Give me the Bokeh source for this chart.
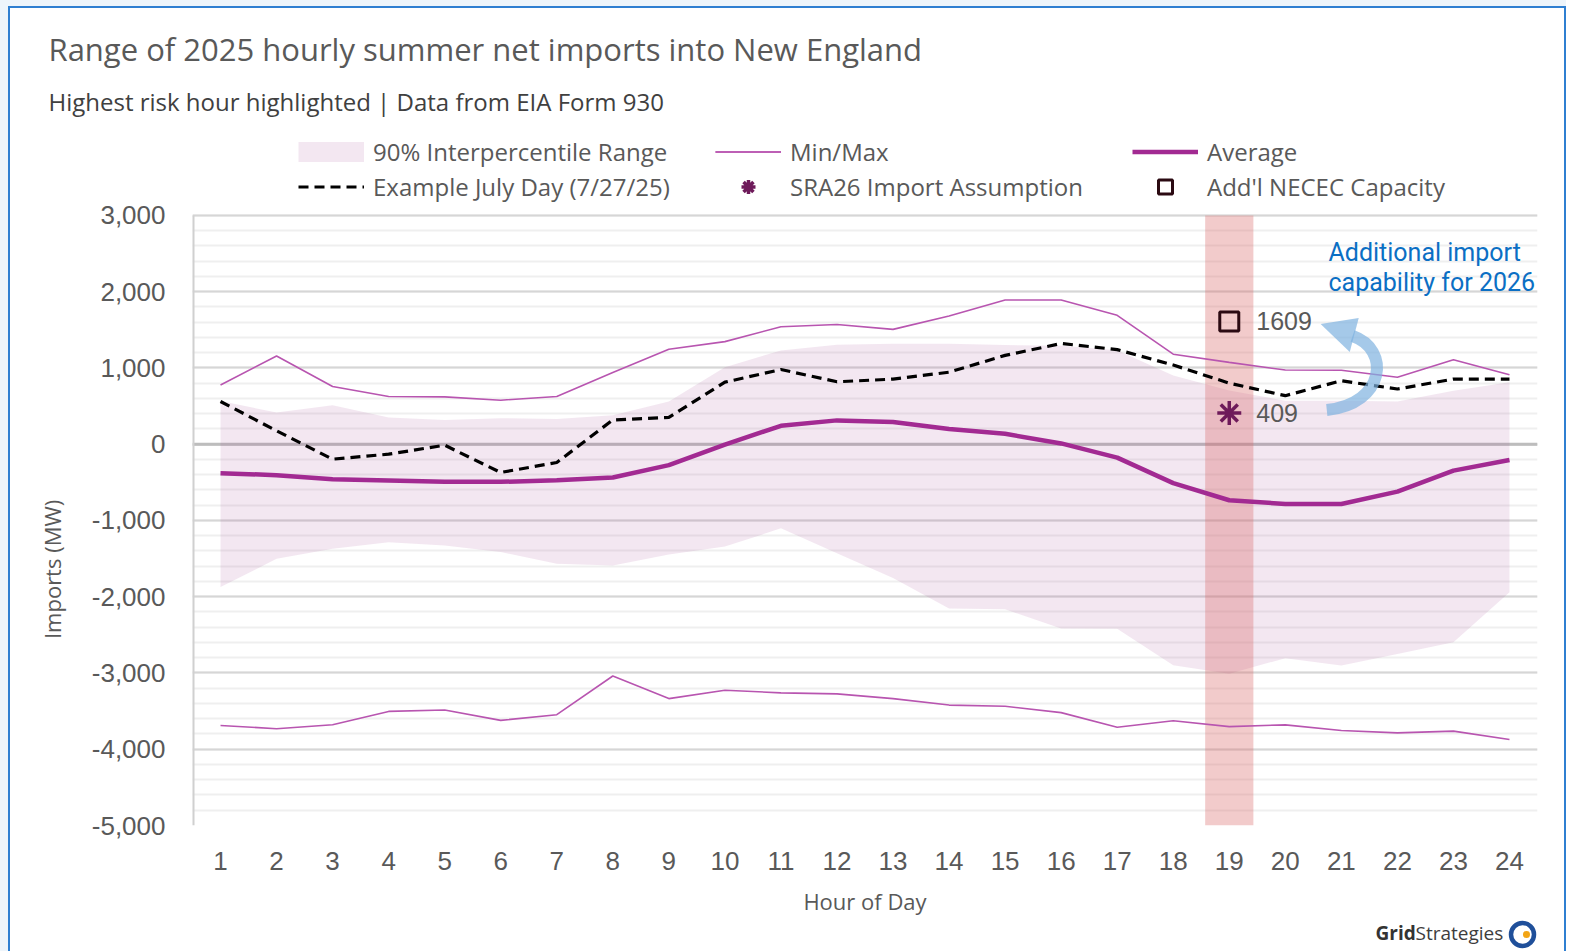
from bokeh.plotting import figure
from bokeh.layouts import column
from bokeh.models import (ColumnDataSource, Legend, LegendItem, Label, Span, FixedTicker,
                          NumeralTickFormatter, Range1d, Title)
from bokeh.embed import file_html
from bokeh.resources import INLINE

# ---------------- data ----------------
hours = list(range(1, 25))
max_vals = [777, 1157, 756, 625, 620, 577, 625, 940, 1244, 1345, 1540, 1570,
            1505, 1680, 1891, 1891, 1690, 1180, 1073, 972, 970, 877, 1108, 911]
min_vals = [-3688, -3731, -3679, -3504, -3486, -3622, -3547, -3040, -3336, -3226, -3261, -3274,
            -3336, -3421, -3436, -3520, -3712, -3627, -3703, -3680, -3754, -3785, -3763, -3873]
p95_vals = [565, 415, 511, 350, 318, 340, 330, 380, 560, 1010, 1229, 1304,
            1316, 1316, 1300, 1290, 1230, 900, 703, 570, 570, 560, 700, 811]
p5_vals = [-1874, -1503, -1372, -1285, -1330, -1415, -1569, -1590, -1445, -1343, -1104, -1429,
           -1755, -2156, -2166, -2417, -2420, -2899, -3010, -2806, -2903, -2750, -2597, -1941]
avg_vals = [-380, -406, -459, -475, -494, -494, -472, -437, -275, -5, 241, 312,
            291, 200, 136, 10, -176, -511, -735, -784, -784, -622, -347, -207]
july_vals = [560, 175, -197, -131, -13, -371, -240, 318, 351, 813, 979, 818,
             853, 944, 1164, 1320, 1240, 1038, 800, 636, 832, 723, 854, 854]

risk_hour = 19
sra26_value = 409
necec_value = 1609

y_major = list(range(-5000, 3001, 1000))
y_minor = list(range(-5000, 3001, 200))

GRAY_TXT = "#595959"
FONT = "Open Sans"

src = ColumnDataSource(dict(hour=hours, mx=max_vals, mn=min_vals, p95=p95_vals,
                            p5=p5_vals, avg=avg_vals, july=july_vals))

W = 1566
HEADER_H = 136          # title + subtitle strip
PLOT_TOP_PX = 215       # page y of the 3,000 gridline
FRAME_BOTTOM_PX = 826   # page y of the -5,000 gridline
BOTTOM_BORDER = 92
FOOTER_H = 951 - (FRAME_BOTTOM_PX + BOTTOM_BORDER)
FRAME_LEFT_PX = 192


def bare_figure(h, xr, yr):
    f = figure(width=W, height=h, output_backend="svg", toolbar_location=None,
               x_range=xr, y_range=yr, x_axis_type=None, y_axis_type=None, min_border=0)
    f.outline_line_color = None
    f.background_fill_color = None
    f.border_fill_color = None
    return f


# ---------------- header (title / subtitle as titles, not clipped) ----------------
head = bare_figure(HEADER_H, Range1d(0, 1), Range1d(0, 1))
head.add_layout(Title(text="Highest risk hour highlighted | Data from EIA Form 930", align="left",
                      offset=48 - FRAME_LEFT_PX, standoff=26, text_font=FONT, text_font_size="24px",
                      text_font_style="normal", text_color="#404040"), "above")
head.add_layout(Title(text="Range of 2025 hourly summer net imports into New England", align="left",
                      offset=48 - FRAME_LEFT_PX, standoff=0, text_font=FONT, text_font_size="31px",
                      text_font_style="normal", text_color=GRAY_TXT), "above")
head.add_layout(Title(text="\u00a0", align="left", standoff=9, text_font=FONT,
                      text_font_size="10px", text_color="white"), "above")

# ---------------- main chart ----------------
frame_h = FRAME_BOTTOM_PX - HEADER_H
units_per_px = (y_major[-1] - y_major[0]) / (FRAME_BOTTOM_PX - PLOT_TOP_PX)
y_top = y_major[-1] + (PLOT_TOP_PX - HEADER_H) * units_per_px

p = figure(width=W, height=frame_h + BOTTOM_BORDER, output_backend="svg", toolbar_location=None,
           x_range=Range1d(0.5, 24.5), y_range=Range1d(y_major[0], y_top),
           min_border_left=FRAME_LEFT_PX, min_border_right=W - 1537, min_border_top=0,
           min_border_bottom=BOTTOM_BORDER)
p.outline_line_color = None
p.background_fill_color = None
p.border_fill_color = None

p.xaxis.ticker = FixedTicker(ticks=hours)
p.yaxis.ticker = FixedTicker(ticks=y_major, minor_ticks=y_minor)
p.yaxis.formatter = NumeralTickFormatter(format="0,0")
for ax in (p.xaxis, p.yaxis):
    ax.major_tick_line_color = None
    ax.minor_tick_line_color = None
    ax.major_tick_out = 0
    ax.minor_tick_out = 0
    ax.axis_line_color = None
    ax.major_label_text_font = "Liberation Sans"
    ax.major_label_text_font_size = "26px"
    ax.major_label_text_color = GRAY_TXT
    ax.axis_label_text_font = FONT
    ax.axis_label_text_font_size = "22px"
    ax.axis_label_text_font_style = "normal"
    ax.axis_label_text_color = GRAY_TXT
p.xaxis.axis_label = "Hour of Day"
# trailing spaces move the centred label down to the middle of the value area
p.yaxis.axis_label = "Imports (MW)" + "\u2003" * 7 + "\u00a0" * 4
p.yaxis.major_label_standoff = 27
p.xaxis.major_label_standoff = 26
p.xaxis.axis_label_standoff = 13
p.yaxis.axis_label_standoff = 22

p.xgrid.grid_line_color = None
p.ygrid.grid_line_color = "#d6d6d6"
p.ygrid.grid_line_width = 2
p.ygrid.minor_grid_line_color = "#efefef"
p.ygrid.minor_grid_line_width = 2

p.add_layout(Span(location=0, dimension="width", line_color="#bdbdbd", line_width=3, level="underlay"))

# left edge line of the value area
p.segment(x0=[0.5], x1=[0.5], y0=[y_major[0]], y1=[y_major[-1]], line_color="#d0d0d0", line_width=4)

band = p.varea(x="hour", y1="p5", y2="p95", source=src, fill_color="#9b3a8e", fill_alpha=0.12)
p.vbar(x=[risk_hour], width=0.86, top=[y_major[-1]], bottom=[y_major[0]],
       fill_color="#d96a6a", fill_alpha=0.35, line_color=None)

mx_r = p.line("hour", "mx", source=src, line_color="#b855b0", line_width=1.6)
mn_r = p.line("hour", "mn", source=src, line_color="#b855b0", line_width=1.6)
avg_r = p.line("hour", "avg", source=src, line_color="#a22a92", line_width=4.5)
july_r = p.line("hour", "july", source=src, line_color="black", line_width=3.2, line_dash="10 6")

sra_r = p.scatter([risk_hour], [sra26_value], marker="asterisk", size=24,
                  line_color="#6e1a5a", line_width=3.5)
nec_r = p.scatter([risk_hour], [necec_value], marker="square", size=19,
                  fill_color=None, line_color="#2b0a12", line_width=3)

# single-point line: draws nothing in the plot, gives the band's legend swatch
band_leg = p.line(x=[hours[0]], y=[y_major[0]], line_color="#9b3a8e", line_alpha=0.12,
                  line_width=20, line_cap="butt")

for txt, val in ((str(necec_value), necec_value), (str(sra26_value), sra26_value)):
    p.add_layout(Label(x=risk_hour, y=val, x_offset=27, text=txt, text_font="Liberation Sans",
                       text_font_size="25px", text_color=GRAY_TXT, text_baseline="middle"))

# curved arrow (annotation), positioned relative to the highlighted hour
ax0 = risk_hour
p.bezier(x0=[ax0 + 1.74], y0=[448], x1=[ax0 + 2.20], y1=[1418],
         cx0=[ax0 + 2.79], cy0=[527], cx1=[ax0 + 2.88], cy1=[1248],
         line_color="#7fb2e0", line_alpha=0.7, line_width=12)
p.patch(x=[ax0 + 1.63, ax0 + 2.31, ax0 + 2.15], y=[1575, 1654, 1208],
        fill_color="#7fb2e0", fill_alpha=0.7, line_color=None)

fb = FRAME_BOTTOM_PX  # screen y is measured upward from the frame bottom
p.add_layout(Label(x=1136, y=fb - 267, x_units="screen", y_units="screen", text="Additional import",
                   text_font="Roboto", text_font_size="25px", text_color="#0b6fc4"))
p.add_layout(Label(x=1136, y=fb - 297, x_units="screen", y_units="screen", text="capability for 2026",
                   text_font="Roboto", text_font_size="25px", text_color="#0b6fc4"))

legend = Legend(items=[
    LegendItem(label="90% Interpercentile Range", renderers=[band_leg]),
    LegendItem(label="Min/Max", renderers=[mx_r, mn_r]),
    LegendItem(label="Average", renderers=[avg_r]),
    LegendItem(label="Example July Day (7/27/25)", renderers=[july_r]),
    LegendItem(label="SRA26 Import Assumption", renderers=[sra_r]),
    LegendItem(label="Add'l NECEC Capacity", renderers=[nec_r]),
], location=(106, fb - 205), orientation="horizontal", ncols=3,
    glyph_width=66, glyph_height=35, label_standoff=9, spacing=0,
    label_width=342, padding=0, margin=0,
    border_line_color=None, background_fill_color=None, background_fill_alpha=0,
    label_text_font=FONT, label_text_font_size="24px", label_text_color=GRAY_TXT)
p.add_layout(legend)

# ---------------- footer (logo) ----------------
foot = bare_figure(FOOTER_H, Range1d(FRAME_LEFT_PX, 1537), Range1d(0, FOOTER_H))
foot.add_layout(Label(x=1375 - FRAME_LEFT_PX, y=6, x_units="screen", y_units="screen", text="Grid",
                      text_font=FONT, text_font_size="19px", text_font_style="bold",
                      text_color="#333333"))
foot.add_layout(Label(x=1415 - FRAME_LEFT_PX, y=6, x_units="screen", y_units="screen",
                      text="Strategies", text_font=FONT, text_font_size="19px",
                      text_color="#3d3d3d"))
foot.scatter([1522], [17], marker="circle", size=23, fill_color=None,
             line_color="#1f4f9a", line_width=4.5)
foot.scatter([1526], [17], marker="circle", size=7, fill_color="#f2a516", line_color=None)

page = column(head, p, foot, spacing=0,
              styles={"background-color": "white",
                      "box-shadow": "inset 8px 6px 0 0 #eef5fb, inset 10px 8px 0 0 #2f7fd1, "
                                    "inset -2px 0 0 0 #2f7fd1"})

open("out.html", "w").write(file_html(page, INLINE))
